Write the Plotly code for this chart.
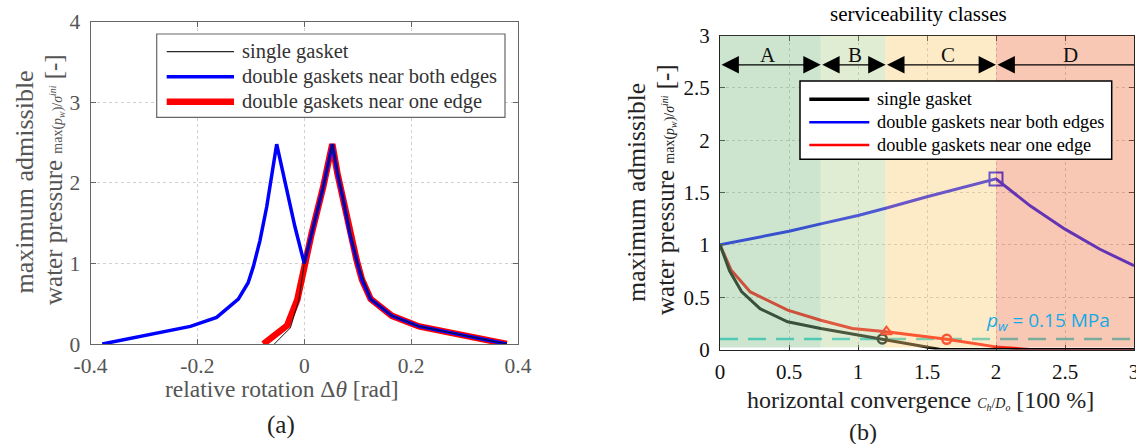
import plotly.graph_objects as go

W, H = 1136, 444

# ---------------- data: panel (a) ----------------
rot_single = [-0.056, -0.026, -0.010, -0.003, 0.0, 0.0138, 0.0355, 0.0525, 0.073, 0.098, 0.1243, 0.164, 0.2149, 0.379]
p_single_a = [0.0, 0.20, 0.55, 0.85, 1.0, 1.37, 1.95, 2.48, 1.79, 1.04, 0.558, 0.35, 0.218, 0.0]

rot_both = [-0.378, -0.213, -0.164, -0.1234, -0.105, -0.0953, -0.083, -0.0703, -0.0516, -0.042, -0.033, -0.0174, 0.0,
            0.0138, 0.0355, 0.0525, 0.062, 0.073, 0.085, 0.098, 0.108, 0.1243, 0.164, 0.2149, 0.379]
p_both_a = [0.0, 0.218, 0.33, 0.558, 0.76, 0.96, 1.28, 1.70, 2.48, 2.20, 1.95, 1.455, 1.0,
            1.37, 1.95, 2.48, 2.12, 1.79, 1.38, 1.04, 0.80, 0.558, 0.35, 0.218, 0.0]

rot_one = [-0.0766, -0.032, -0.013, -0.004, 0.0, 0.0138, 0.0355, 0.0525, 0.062, 0.073, 0.085, 0.098, 0.108, 0.1243, 0.164, 0.2149, 0.379]
p_one_a = [0.0, 0.23, 0.55, 0.85, 1.0, 1.37, 1.95, 2.48, 2.12, 1.79, 1.38, 1.04, 0.80, 0.558, 0.35, 0.218, 0.0]

xa_ticks = [-0.4, -0.2, 0, 0.2, 0.4]
xa_ticktext = ["-0.4", "-0.2", "0", "0.2", "0.4"]
ya_ticks = [0, 1, 2, 3, 4]
ya_ticktext = ["0", "1", "2", "3", "4"]

# ---------------- data: panel (b) ----------------
conv_single = [0.0, 0.07, 0.156, 0.29, 0.49, 0.73, 1.01, 1.176, 1.6, 3.0]
p_single_b = [1.0, 0.75, 0.553, 0.39, 0.265, 0.20, 0.137, 0.10, 0.0, 0.0]

conv_both = [0.0, 0.5, 0.73, 1.0, 1.2, 1.5, 2.0, 2.25, 2.5, 2.75, 3.0]
p_both_b = [1.0, 1.13, 1.20, 1.28, 1.35, 1.46, 1.63, 1.37, 1.15, 0.96, 0.80]

conv_one = [0.0, 0.08, 0.22, 0.49, 0.73, 0.96, 1.206, 1.643, 2.0, 2.25, 3.0]
p_one_b = [1.0, 0.76, 0.55, 0.376, 0.28, 0.20, 0.17, 0.097, 0.025, 0.0, 0.0]

pw_limit = 0.1
pw_label = "<i>p<sub>w</sub></i> = 0.15 MPa"

marker_single = (1.176, 0.10)
marker_one_tri = (1.206, 0.17)
marker_one_circ = (1.643, 0.097)
marker_both_sq = (2.0, 1.63)

class_edges = [0.0, 0.73, 1.2, 2.0, 3.0]
class_labels = ["A", "B", "C", "D"]
class_label_x = [0.35, 0.98, 1.65, 2.54]
class_colors = ["rgb(136,193,138)", "rgb(184,212,150)", "rgb(250,205,122)", "rgb(238,124,76)"]
class_arrowsides = ["end+start", "end+start", "end+start", "start"]
class_arrow_y = 2.72
class_label_y = 2.81

xb_ticks = [0, 0.5, 1, 1.5, 2, 2.5, 3]
xb_ticktext = ["0", "0.5", "1", "1.5", "2", "2.5", "3"]
yb_ticks = [0, 0.5, 1, 1.5, 2, 2.5, 3]
yb_ticktext = ["0", "0.5", "1", "1.5", "2", "2.5", "3"]

names = ["single gasket", "double gaskets near both edges", "double gaskets near one edge"]

SERIF = "Liberation Serif"
GRAY = "#555555"
BAND_OPACITY = 0.42

def px(x):
    return x / W

def py(y):
    return 1 - y / H

fig = go.Figure()

# panel (a) traces: red at bottom, blue, then black thin on top
fig.add_trace(go.Scatter(x=rot_one, y=p_one_a, mode="lines", line=dict(color="rgb(255,0,0)", width=6.5),
                         xaxis="x", yaxis="y", showlegend=False))
fig.add_trace(go.Scatter(x=rot_both, y=p_both_a, mode="lines", line=dict(color="rgb(0,0,255)", width=3.5),
                         xaxis="x", yaxis="y", showlegend=False))
fig.add_trace(go.Scatter(x=rot_single, y=p_single_a, mode="lines", line=dict(color="rgb(20,20,20)", width=1),
                         xaxis="x", yaxis="y", showlegend=False))

# panel (b) traces
fig.add_trace(go.Scatter(x=[0, 3], y=[pw_limit, pw_limit], mode="lines",
                         line=dict(color="rgb(40,205,210)", width=2.5, dash="18px,10px"),
                         xaxis="x2", yaxis="y2", showlegend=False))
fig.add_trace(go.Scatter(x=conv_both, y=p_both_b, mode="lines", line=dict(color="rgb(0,0,255)", width=3),
                         xaxis="x2", yaxis="y2", showlegend=False))
fig.add_trace(go.Scatter(x=conv_one, y=p_one_b, mode="lines", line=dict(color="rgb(255,0,0)", width=3),
                         xaxis="x2", yaxis="y2", showlegend=False))
fig.add_trace(go.Scatter(x=conv_single, y=p_single_b, mode="lines", line=dict(color="rgb(0,0,0)", width=3),
                         xaxis="x2", yaxis="y2", showlegend=False))
fig.add_trace(go.Scatter(x=[marker_single[0]], y=[marker_single[1]], mode="markers",
                         marker=dict(symbol="circle-open", size=9, color="black", line=dict(width=2.5)),
                         xaxis="x2", yaxis="y2", showlegend=False))
fig.add_trace(go.Scatter(x=[marker_one_tri[0]], y=[marker_one_tri[1]], mode="markers",
                         marker=dict(symbol="triangle-up-open", size=10, color="rgb(255,0,0)", line=dict(width=2)),
                         xaxis="x2", yaxis="y2", showlegend=False))
fig.add_trace(go.Scatter(x=[marker_one_circ[0]], y=[marker_one_circ[1]], mode="markers",
                         marker=dict(symbol="circle-open", size=9, color="rgb(255,0,0)", line=dict(width=2.5)),
                         xaxis="x2", yaxis="y2", showlegend=False))
fig.add_trace(go.Scatter(x=[marker_both_sq[0]], y=[marker_both_sq[1]], mode="markers",
                         marker=dict(symbol="square-open", size=13, color="rgb(0,0,255)", line=dict(width=2)),
                         xaxis="x2", yaxis="y2", showlegend=False))

shapes = []
annotations = []

# serviceability class bands (drawn above the curves, translucent)
for i, lab in enumerate(class_labels):
    x0, x1 = class_edges[i], class_edges[i + 1]
    shapes.append(dict(type="rect", xref="x2", yref="y2", x0=x0, x1=x1, y0=0.02, y1=3.0,
                       fillcolor=class_colors[i], opacity=BAND_OPACITY, line=dict(width=0), layer="above"))
    annotations.append(dict(xref="x2", yref="y2", x=x1, y=class_arrow_y, ax=x0, ay=class_arrow_y,
                            axref="x2", ayref="y2", text="", showarrow=True,
                            arrowhead=2, arrowsize=2.9, startarrowhead=2, startarrowsize=2.9,
                            arrowside=class_arrowsides[i], arrowwidth=1.2,
                            arrowcolor="black", standoff=0, startstandoff=0))
    annotations.append(dict(xref="x2", yref="y2", x=class_label_x[i], y=class_label_y, text=lab,
                            showarrow=False, xanchor="center", yanchor="middle",
                            font=dict(family=SERIF, size=21, color="#111111")))

# legend (a)
shapes.append(dict(type="rect", xref="paper", yref="paper", x0=px(156.7), x1=px(505), y0=py(117.3), y1=py(34),
                   fillcolor="white", line=dict(color="#666666", width=1.2), layer="above"))
leg_a_styles = [("rgb(40,40,40)", 1.2), ("rgb(0,0,255)", 3.5), ("rgb(255,0,0)", 6.5)]
for k, (nm, (c, w)) in enumerate(zip(names, leg_a_styles)):
    yy = 51.7 + 25 * k
    shapes.append(dict(type="line", xref="paper", yref="paper", x0=px(166.7), x1=px(234), y0=py(yy), y1=py(yy),
                       line=dict(color=c, width=w), layer="above"))
    annotations.append(dict(xref="paper", yref="paper", x=px(240), y=py(yy), text=nm, showarrow=False,
                            xanchor="left", yanchor="middle", font=dict(family=SERIF, size=20.5, color="#333333")))

# legend (b)
shapes.append(dict(type="rect", xref="paper", yref="paper", x0=px(800), x1=px(1111.7), y0=py(159.3), y1=py(81),
                   fillcolor="white", line=dict(color="black", width=1.5), layer="above"))
leg_b_styles = [("rgb(0,0,0)", 3.5), ("rgb(0,0,255)", 2.5), ("rgb(255,0,0)", 2.5)]
for k, (nm, (c, w)) in enumerate(zip(names, leg_b_styles)):
    yy = 99.3 + 22.9 * k
    shapes.append(dict(type="line", xref="paper", yref="paper", x0=px(809.3), x1=px(869.3), y0=py(yy), y1=py(yy),
                       line=dict(color=c, width=w), layer="above"))
    annotations.append(dict(xref="paper", yref="paper", x=px(875), y=py(yy), text=nm, showarrow=False,
                            xanchor="left", yanchor="middle", font=dict(family=SERIF, size=18.3, color="black")))

# p_w label
annotations.append(dict(xref="x2", yref="y2", x=2.38, y=0.27, text=pw_label, showarrow=False,
                        xanchor="center", yanchor="middle",
                        font=dict(family="Open Sans", size=19, color="rgb(20,170,230)")))

frac = '<span style="font-size:14px">max(<i>p<sub>w</sub></i>)/<i>σ<sup>ini</sup></i></span>'

def ann(xp, yp, text, size, color, angle=0):
    return dict(xref="paper", yref="paper", x=px(xp), y=py(yp), text=text, textangle=angle,
                showarrow=False, xanchor="center", yanchor="middle",
                font=dict(family=SERIF, size=size, color=color))

# axis titles and captions, panel (a)
annotations += [
    ann(24, 182.5, "maximum admissible", 26, GRAY, -90),
    ann(53, 180, "water pressure " + frac + " [-]", 25, GRAY, -90),
    ann(282, 389, "relative rotation Δ<i>θ</i> [rad]", 23.5, GRAY),
    ann(281, 425, "(a)", 25, "#222222"),
]
# panel (b)
frac_b = '<span style="font-size:14px"><i>C<sub>h</sub></i>/<i>D<sub>o</sub></i></span>'
annotations += [
    ann(918, 14, "serviceability classes", 21, "black"),
    ann(637, 191.7, "maximum admissible", 25.5, "#222222", -90),
    ann(665, 190, "water pressure " + frac + " [-]", 25, "#222222", -90),
    ann(920, 400, "horizontal convergence " + frac_b + " [100 %]", 24, "#222222"),
    ann(863, 432, "(b)", 24, "#222222"),
]

axis_common = dict(showline=True, mirror="ticks", ticks="inside", ticklen=5, zeroline=False,
                   showgrid=True, griddash="dot", automargin=False, ticklabeloverflow="allow")

fig.update_layout(
    width=W, height=H, margin=dict(l=0, r=0, t=0, b=0),
    paper_bgcolor="white", plot_bgcolor="white", showlegend=False,
    xaxis=dict(domain=[px(90.5), px(518)], range=[-0.4, 0.4], tickmode="array", tickvals=xa_ticks, ticktext=xa_ticktext,
               linecolor="#666666", tickcolor="#666666", gridcolor="#d0d0d0", ticklabelstandoff=2,
               tickfont=dict(family=SERIF, size=21.5, color=GRAY), anchor="y", **axis_common),
    yaxis=dict(domain=[1 - 344 / H, 1 - 21.7 / H], range=[0, 4], tickmode="array", tickvals=ya_ticks, ticktext=ya_ticktext,
               linecolor="#666666", tickcolor="#666666", gridcolor="#d0d0d0", ticklabelstandoff=5,
               tickfont=dict(family=SERIF, size=21.5, color=GRAY), anchor="x", **axis_common),
    xaxis2=dict(domain=[px(720), px(1134)], range=[0, 3], tickmode="array", tickvals=xb_ticks, ticktext=xb_ticktext,
                linecolor="#222222", tickcolor="#222222", gridcolor="#c8c8c8", ticklabelstandoff=3,
                tickfont=dict(family=SERIF, size=21, color="#111111"), anchor="y2", **axis_common),
    yaxis2=dict(domain=[1 - 349.5 / H, 1 - 35.5 / H], range=[0, 3], tickmode="array", tickvals=yb_ticks, ticktext=yb_ticktext,
                linecolor="#222222", tickcolor="#222222", gridcolor="#c8c8c8", ticklabelstandoff=5,
                tickfont=dict(family=SERIF, size=21, color="#111111"), anchor="x2", **axis_common),
    shapes=shapes, annotations=annotations,
)

fig.write_html("out.html")
